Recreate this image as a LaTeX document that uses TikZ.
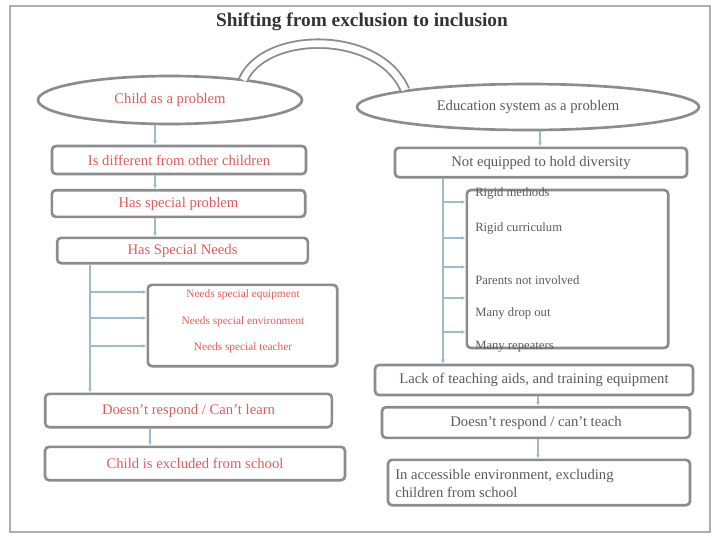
\documentclass[tikz,border=0pt]{standalone}
\usepackage{fontspec}
\setmainfont{Liberation Serif}
\usetikzlibrary{shapes.geometric,arrows.meta}
\definecolor{boxgray}{HTML}{8C8C8C}
\definecolor{redtxt}{HTML}{E05A5A}
\definecolor{graytxt}{HTML}{5A5A5A}
\definecolor{connblue}{HTML}{9DBCCB}
\tikzset{
  box/.style={draw=boxgray, line width=2pt, rounded corners=3pt, inner sep=0pt, font=\fontsize{11}{13}\selectfont},
  oval/.style={draw=boxgray, line width=2pt, ellipse, inner sep=0pt, font=\fontsize{11}{13}\selectfont},
  conn/.style={draw=connblue, line width=0.8pt, -{Latex[length=3pt,width=3pt]}},
  small/.style={font=\fontsize{8.5}{10}\selectfont, inner sep=0pt},
  item/.style={font=\fontsize{9.5}{11}\selectfont, inner sep=0pt, anchor=west, text=graytxt},
}
\begin{document}
\begin{tikzpicture}[x=0.75pt,y=-0.75pt]
\useasboundingbox (0,0) rectangle (720,540);
\draw[boxgray!70, line width=2.2pt] (10,6) rectangle (710,532);
\node[font=\bfseries\fontsize{14.5}{16}\selectfont, text=black!80] (title) at (362,22) {Shifting from exclusion to inclusion};

% ellipses
\node[oval, minimum width=198pt, minimum height=36pt, text=redtxt] (E1) at (170,100) {Child as a problem};
\node[oval, minimum width=256.5pt, minimum height=34.5pt, text=graytxt] (E2) at (528,107) {Education system as a problem};

% curved arrow
\coordinate (ca) at (243,80);
\coordinate (cb) at (405,90);
\draw[boxgray, line width=1.4pt, double=white, double distance=5pt] (ca) .. controls (265,30) and (380,30) .. (cb);

% left column
\node[box, minimum width=190.5pt, minimum height=21pt, text=redtxt] (B1) at (179,160) {Is different from other children};
\node[box, minimum width=190pt, minimum height=20pt, text=redtxt] (B2) at (178.5,203.5) {Has special problem};
\node[box, minimum width=188pt, minimum height=19pt, text=redtxt] (B3) at (182.5,250.5) {Has Special Needs};
\node[box, minimum width=142pt, minimum height=61pt] (N) at (242.5,325.5) {};
\node[small, text=redtxt] (n1) at (243,295) {Needs special equipment};
\node[small, text=redtxt] (n2) at (243,322) {Needs special environment};
\node[small, text=redtxt] (n3) at (243,348) {Needs special teacher};
\node[box, minimum width=215pt, minimum height=25pt, text=redtxt] (B4) at (188.5,410.5) {Doesn't respond / Can't learn};
\node[box, minimum width=225pt, minimum height=25pt, text=redtxt] (B5) at (195,463.5) {Child is excluded from school};

\coordinate (xl) at (155,0);
\coordinate (xl2) at (150,0);
\coordinate (xv) at (90,0);
\draw[conn] (xl |- E1.south) -- (xl |- B1.north);
\draw[conn] (xl |- B1.south) -- (xl |- B2.north);
\draw[conn] (xl |- B2.south) -- (xl |- B3.north);
\draw[conn] (xl2 |- B4.south) -- (xl2 |- B5.north);
\draw[conn] (xv |- B3.south) -- (xv |- B4.north);
\coordinate (lb1) at (90,292);
\coordinate (lb2) at (90,318);
\coordinate (lb3) at (90,346);
\draw[conn] (lb1) -- (lb1 -| N.west);
\draw[conn] (lb2) -- (lb2 -| N.west);
\draw[conn] (lb3) -- (lb3 -| N.west);

% right column
\node[box, minimum width=219pt, minimum height=22pt, text=graytxt] (R1) at (541,162.5) {Not equipped to hold diversity};
\node[box, minimum width=151pt, minimum height=118.5pt] (L) at (567.5,269) {};
\node[item] (l1) at (475,193) {Rigid methods};
\node[item] (l2) at (475,228) {Rigid curriculum};
\node[item] (l3) at (475,280) {Parents not involved};
\node[item] (l4) at (475,313) {Many drop out};
\node[item] (l5) at (475,347) {Many repeaters};
\node[box, minimum width=238.5pt, minimum height=22.5pt, text=graytxt] (R2) at (534,380) {Lack of teaching aids, and training equipment};
\node[box, minimum width=231pt, minimum height=23pt, text=graytxt] (R3) at (536,422.5) {Doesn't respond / can't teach};
\node[box, minimum width=226.5pt, minimum height=34pt] (R4) at (539,482.5) {};
\node[font=\fontsize{11}{13.5}\selectfont, text=graytxt, align=left, anchor=west, inner sep=0pt] (r4t) at (395,483) {In accessible environment, excluding\\children from school};

\coordinate (xr) at (538,0);
\coordinate (xr1) at (540,0);
\coordinate (xrv) at (443,0);
\draw[conn] (xr1 |- E2.south) -- (xr1 |- R1.north);
\draw[conn] (xr |- R2.south) -- (xr |- R3.north);
\draw[conn] (xr |- R3.south) -- (xr |- R4.north);
\draw[conn] (xrv |- R1.south) -- (xrv |- R2.north);
\coordinate (rb1) at (443,202);
\coordinate (rb2) at (443,238);
\coordinate (rb3) at (443,267);
\coordinate (rb4) at (443,298);
\coordinate (rb5) at (443,332);
\draw[conn] (rb1) -- (rb1 -| L.west);
\draw[conn] (rb2) -- (rb2 -| L.west);
\draw[conn] (rb3) -- (rb3 -| L.west);
\draw[conn] (rb4) -- (rb4 -| L.west);
\draw[conn] (rb5) -- (rb5 -| L.west);
\end{tikzpicture}
\end{document}
